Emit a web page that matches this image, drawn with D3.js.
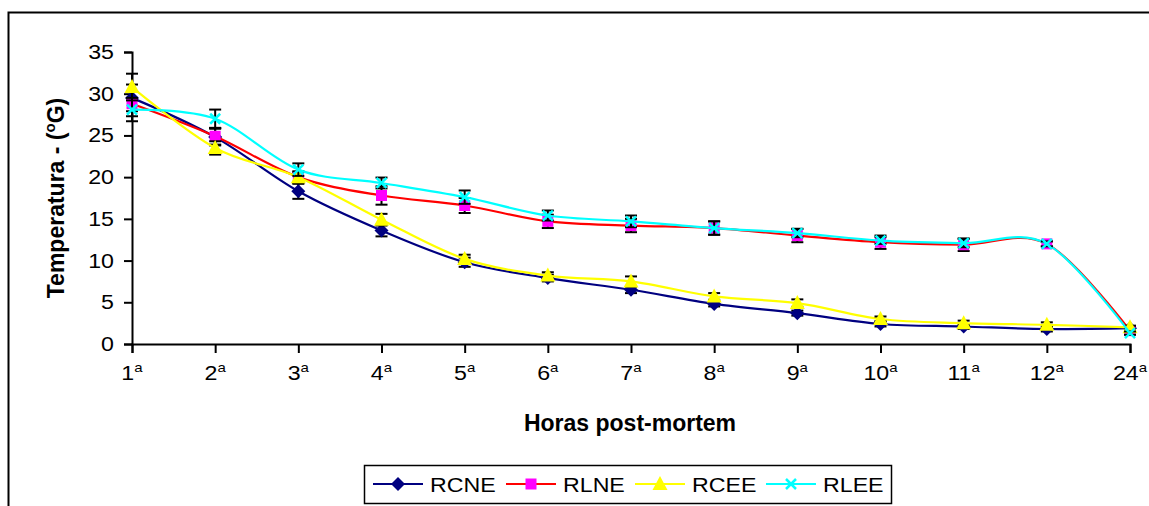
<!DOCTYPE html>
<html>
<head>
<meta charset="utf-8">
<script src="https://cdn.jsdelivr.net/npm/d3@7/dist/d3.min.js"></script>
<style>
  html, body { margin: 0; padding: 0; background: #fff; }
  svg { display: block; font-family: Arial, "Liberation Sans", sans-serif; }
</style>
</head>
<body>
<svg id="chart" width="1149" height="506"></svg>
<script>
/* ------------------------------------------------------------
   DATOS — temperatura por hora post-mortem
------------------------------------------------------------ */

const HOURS = ["1", "2", "3", "4", "5", "6", "7", "8", "9", "10", "11", "12", "24"];
const Y_TICKS = [0, 5, 10, 15, 20, 25, 30, 35];

const RCNE = [29.5, 24.8, 18.3, 13.6, 9.8, 7.9, 6.5, 4.8, 3.7, 2.4, 2.1, 1.8, 1.9];
const RLNE = [28.8, 24.9, 20.0, 17.8, 16.6, 14.7, 14.2, 13.9, 13.0, 12.2, 11.9, 12.0, 1.6];
const RCEE = [30.8, 23.5, 20.0, 14.9, 10.2, 8.2, 7.5, 5.7, 4.9, 3.0, 2.5, 2.3, 2.0];
const RLEE = [28.1, 27.0, 20.9, 19.3, 17.6, 15.4, 14.7, 13.9, 13.3, 12.4, 12.1, 12.0, 1.3];

const RCNE_ERR = [1.6, 1.0, 0.9, 0.7, 0.55, 0.4, 0.4, 0.3, 0.3, 0.3, 0.3, 0.3, 0.2];
const RLNE_ERR = [1.5, 1.0, 0.6, 1.1, 0.9, 0.8, 0.8, 0.8, 0.8, 0.8, 0.75, 0.3, 0.2];
const RCEE_ERR = [1.6, 0.8, 0.7, 0.7, 0.5, 0.4, 0.6, 0.4, 0.45, 0.3, 0.3, 0.3, 0.2];
const RLEE_ERR = [1.4, 1.1, 0.75, 0.65, 0.8, 0.6, 0.7, 0.8, 0.5, 0.4, 0.5, 0.3, 0.2];

const SERIES = [
    { name: "RCNE", values: RCNE, err: RCNE_ERR, line: "#000080", fill: "#000080", marker: "diamond" },
    { name: "RLNE", values: RLNE, err: RLNE_ERR, line: "#ff0000", fill: "#ff00ff", marker: "square" },
    { name: "RCEE", values: RCEE, err: RCEE_ERR, line: "#ffff00", fill: "#ffff00", marker: "triangle" },
    { name: "RLEE", values: RLEE, err: RLEE_ERR, line: "#00ffff", fill: "#00ffff", marker: "cross" }
];

// el gráfico original está algo estirado en horizontal
const SX = 1.16;

/* ------------------------------------------------------------
   ESCALAS
------------------------------------------------------------ */

const svg = d3.select("#chart");

const x = d3.scalePoint()
    .domain(HOURS)
    .range([132, 1130]);

const y = d3.scaleLinear()
    .domain([0, 35])
    .range([344, 52]);

// marco exterior (sale por la derecha y por abajo)
svg.append("rect")
    .attr("x", 8.5).attr("y", 12.5)
    .attr("width", 1160).attr("height", 520)
    .attr("fill", "none")
    .attr("stroke", "#000")
    .attr("stroke-width", 2);

function stretchedText(parent, px, py, size) {
    return parent.append("text")
        .attr("transform", `translate(${px},${py}) scale(${SX},1)`)
        .attr("font-size", size)
        .attr("fill", "#000");
}

/* ------------------------------------------------------------
   EJES
------------------------------------------------------------ */

const yAxis = svg.append("g")
    .attr("transform", "translate(132,0)")
    .call(d3.axisLeft(y).tickValues(Y_TICKS).tickSize(8).tickFormat(() => ""));

const xAxis = svg.append("g")
    .attr("transform", "translate(0,344)")
    .call(d3.axisBottom(x).tickSize(9).tickFormat(() => ""));

[yAxis, xAxis].forEach(g => {
    g.select(".domain").attr("stroke", "#000").attr("stroke-width", 2);
    g.selectAll(".tick line").attr("stroke", "#000").attr("stroke-width", 2);
});

Y_TICKS.forEach(v => {
    stretchedText(svg, 114, y(v) + 7, 20)
        .attr("text-anchor", "end")
        .text(v);
});

// etiquetas "1ª", "2ª"... con la "a" volada
HOURS.forEach(h => {
    const t = stretchedText(svg, x(h), 380, 20)
        .attr("text-anchor", "middle");
    t.append("tspan").text(h);
    t.append("tspan").attr("font-size", 13).attr("dy", -8).text("a");
});

svg.append("text")
    .attr("x", 630).attr("y", 431)
    .attr("text-anchor", "middle")
    .attr("font-size", 23)
    .attr("font-weight", "bold")
    .text("Horas post-mortem");

const yTitle = svg.append("text")
    .attr("transform", "translate(64,198) rotate(-90)")
    .attr("text-anchor", "middle")
    .attr("font-size", 23)
    .attr("font-weight", "bold");
yTitle.append("tspan").text("Temperatura -  (");
yTitle.append("tspan").attr("font-size", 15).attr("dy", -9).text("o");
yTitle.append("tspan").attr("dy", 9).text("G)");

/* ------------------------------------------------------------
   SERIES: línea suavizada, barras de error, marcadores
------------------------------------------------------------ */

const line = d3.line()
    .x((d, i) => x(HOURS[i]))
    .y(d => y(d))
    .curve(d3.curveCardinal.tension(0));

function markerPath(type) {
    if (type === "diamond") return "M0,-7L7,0L0,7L-7,0Z";
    if (type === "square") return "M-5.5,-5.5H5.5V5.5H-5.5Z";
    if (type === "triangle") return "M0,-8L7.5,6H-7.5Z";
    return "M-5,-5L5,5M-5,5L5,-5";
}

function drawMarker(g, s, cx, cy) {
    const p = g.append("path")
        .attr("transform", `translate(${cx},${cy})`)
        .attr("d", markerPath(s.marker));
    if (s.marker === "cross") {
        p.attr("fill", "none").attr("stroke", s.fill).attr("stroke-width", 2.5);
    } else {
        p.attr("fill", s.fill).attr("stroke", "none");
    }
}

SERIES.forEach(s => {
    const g = svg.append("g");

    g.append("path")
        .datum(s.values)
        .attr("fill", "none")
        .attr("stroke", s.line)
        .attr("stroke-width", 2.2)
        .attr("d", line);

    s.values.forEach((v, i) => {
        const cx = x(HOURS[i]);
        const e = s.err[i];
        const eb = g.append("g").attr("stroke", "#000").attr("stroke-width", 2);
        eb.append("line").attr("x1", cx).attr("x2", cx).attr("y1", y(v - e)).attr("y2", y(v + e));
        eb.append("line").attr("x1", cx - 6).attr("x2", cx + 6).attr("y1", y(v - e)).attr("y2", y(v - e));
        eb.append("line").attr("x1", cx - 6).attr("x2", cx + 6).attr("y1", y(v + e)).attr("y2", y(v + e));
    });

    s.values.forEach((v, i) => drawMarker(g, s, x(HOURS[i]), y(v)));
});

/* ------------------------------------------------------------
   LEYENDA
------------------------------------------------------------ */

const legend = svg.append("g");
legend.append("rect")
    .attr("x", 364.5).attr("y", 465.5)
    .attr("width", 527).attr("height", 38)
    .attr("fill", "#fff")
    .attr("stroke", "#000")
    .attr("stroke-width", 1.5);

const LEGEND_X = [373, 506, 635, 766];
SERIES.forEach((s, i) => {
    const lx = LEGEND_X[i];
    legend.append("line")
        .attr("x1", lx).attr("x2", lx + 50)
        .attr("y1", 484).attr("y2", 484)
        .attr("stroke", s.line).attr("stroke-width", 2);
    drawMarker(legend, s, lx + 25, 484);
    stretchedText(legend, lx + 57, 492, 20).text(s.name);
});
</script>
</body>
</html>
